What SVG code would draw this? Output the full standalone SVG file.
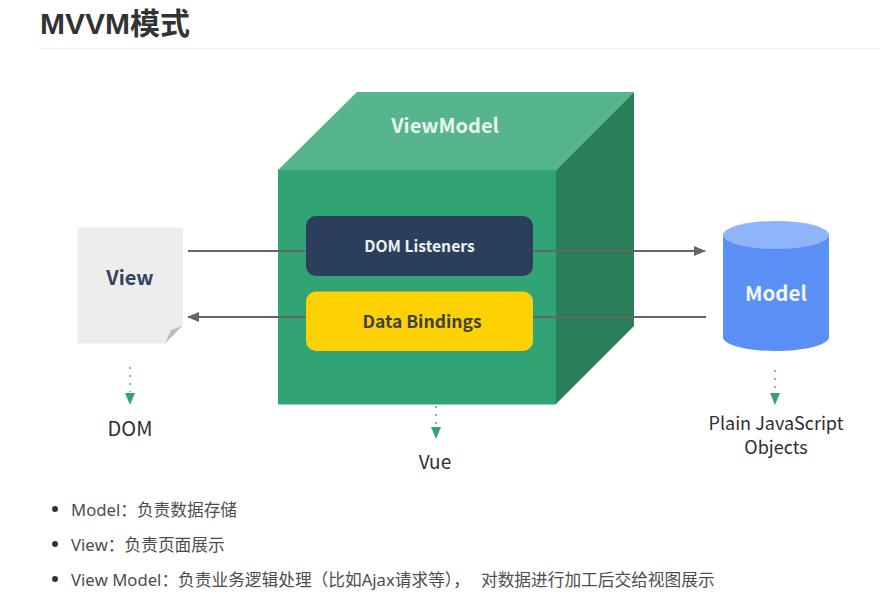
<svg xmlns="http://www.w3.org/2000/svg" width="895" height="606" viewBox="0 0 895 606">
<style>
text{font-family:"Noto Sans CJK SC","Noto Sans",sans-serif}
.lab{font-weight:700;text-anchor:middle}
.cap{font-size:18px;fill:#2e2e2e;text-anchor:middle}
.li{font-size:16.7px;fill:#4d4d4d;font-family:"Noto Sans","Noto Sans CJK SC",sans-serif;font-feature-settings:"chws" 0,"palt" 0;font-kerning:none}
.conn{stroke:#666;stroke-width:2;fill:none}
.dot{stroke:#7dbcaa;stroke-width:2;stroke-dasharray:2 6;fill:none}
.tip{fill:#35a27a}
</style>
<defs><marker id="ah" markerUnits="userSpaceOnUse" markerWidth="12" markerHeight="10" refX="11" refY="5" orient="auto"><path d="M0 0L12 5L0 10Z" fill="#666"/></marker></defs>
<rect width="895" height="606" fill="#fff"/>
<text x="40" y="34" font-size="30" font-weight="700" fill="#333" style="font-family:'Liberation Sans','Noto Sans CJK SC',sans-serif">MVVM模式</text>
<rect x="40" y="48" width="840" height="1" fill="#eee"/>
<g id="viewmodel">
<path d="M278 170L357 92H634L556 170Z" fill="#57b58e"/>
<path d="M556 170L634 92V326L556 404Z" fill="#2a7f5a"/>
<rect x="278" y="170" width="278" height="234.500" fill="#32a374"/>
<text class="lab" x="445" y="133" font-size="20" fill="#e8f5ee">ViewModel</text>
</g>
<g id="connectors">
<path class="conn" d="M188 251H306M533 251H705" marker-end="url(#ah)"/>
<path class="conn" d="M706 317H533M306 317H188" marker-end="url(#ah)"/>
<path class="dot" d="M130 367V392"/><path class="tip" d="M125 393H135L130 405Z"/>
<path class="dot" d="M436 406V426"/><path class="tip" d="M431 427H441L436 439Z"/>
<path class="dot" d="M775 370V392"/><path class="tip" d="M770 393H780L775 405Z"/>
</g>
<g id="dom-listeners"><rect x="306" y="216" width="227" height="60" rx="10" fill="#2b3f5c"/><text class="lab" x="419.500" y="252" font-size="15.700" fill="#eef1f4">DOM Listeners</text></g>
<g id="data-bindings"><rect x="306" y="291.500" width="227" height="59.500" rx="10" fill="#fed103"/><text class="lab" x="422" y="328" font-size="17.500" fill="#3f4040">Data Bindings</text></g>
<g id="view">
<path d="M77.500 227.500H183V326L165 343.500H77.500Z" fill="#ededed"/>
<path d="M165 343.500L171 330L182 326Z" fill="#bdbdbd"/>
<text class="lab" x="130" y="285" font-size="20" fill="#33445f">View</text>
</g>
<g id="model">
<path d="M723 235V337C723 345 747 351 775 351C804 351 829 345 829 337V235Z" fill="#5a90f5"/>
<ellipse cx="776" cy="235" rx="53" ry="14" fill="#8fb4fa"/>
<text class="lab" x="776" y="301" font-size="20.500" fill="#f0f5ff">Model</text>
</g>
<text class="cap" x="130" y="436" style="font-size:20px">DOM</text>
<text class="cap" x="435" y="469" style="font-size:19px">Vue</text>
<text class="cap" x="776" y="430">Plain JavaScript</text>
<text class="cap" x="776" y="454">Objects</text>
<g fill="#333"><circle cx="55" cy="509" r="3"/><circle cx="55" cy="544" r="3"/><circle cx="55" cy="579" r="3"/></g>
<text class="li" x="71" y="516">Model：负责数据存储</text>
<text class="li" x="71" y="551">View：负责页面展示</text>
<text class="li" x="71" y="586">View Model：负责业务逻辑处理（比如Ajax请求等），<tspan x="481">对数据进行加工后交给视图展示</tspan></text>
</svg>
